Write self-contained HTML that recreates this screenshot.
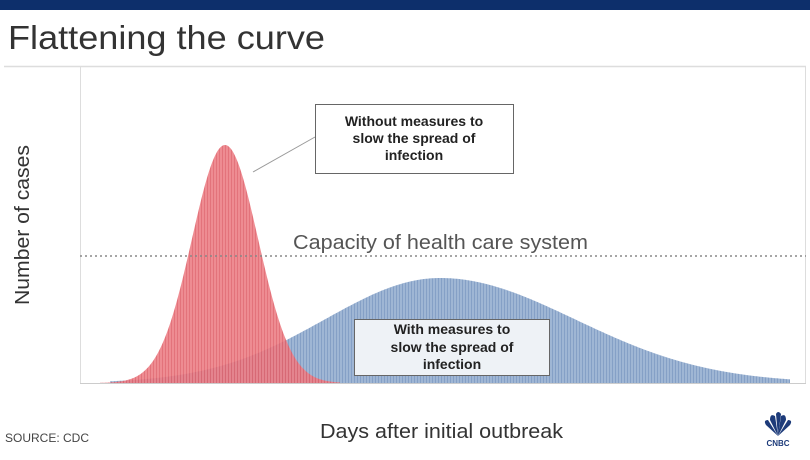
<!DOCTYPE html>
<html><head><meta charset="utf-8"><style>
body{margin:0;background:#fff;width:810px;height:455px;overflow:hidden;font-family:"Liberation Sans",sans-serif}
</style></head><body>
<svg width="810" height="455" xmlns="http://www.w3.org/2000/svg" font-family="Liberation Sans, sans-serif">
<defs>
<pattern id="pb" width="3" height="10" patternUnits="userSpaceOnUse"><rect width="3" height="10" fill="#9fb6d4"/><rect width="1" height="10" fill="#85a0c6"/></pattern>
<pattern id="pr" width="3" height="10" patternUnits="userSpaceOnUse"><rect width="3" height="10" fill="#ec7f86"/><rect width="1" height="10" fill="#e0636c"/></pattern>
</defs>
<rect x="0" y="0" width="810" height="10" fill="#0d2f6b"/>
<text x="8" y="49" font-size="33" fill="#333" textLength="317" lengthAdjust="spacingAndGlyphs">Flattening the curve</text>
<line x1="4" y1="66.5" x2="806" y2="66.5" stroke="#ddd" stroke-width="1.5"/>
<line x1="80.5" y1="67" x2="80.5" y2="383" stroke="#ddd"/>
<line x1="805.5" y1="67" x2="805.5" y2="383" stroke="#ddd"/>
<path id="blue" fill="url(#pb)"/>
<path id="red" fill="url(#pr)" opacity="0.9"/>
<line x1="80" y1="383.5" x2="806" y2="383.5" stroke="#ccc"/>
<line x1="80" y1="256" x2="806" y2="256" stroke="#888" stroke-width="1.5" stroke-dasharray="2,3"/>
<text x="293" y="249" font-size="20" fill="#555" textLength="295" lengthAdjust="spacingAndGlyphs">Capacity of health care system</text>
<line x1="253" y1="172" x2="315" y2="137" stroke="#999"/>
<rect x="315.5" y="104.5" width="198" height="69" fill="#fff" stroke="#666"/>
<g font-size="14" font-weight="bold" fill="#222" text-anchor="middle">
<text x="414" y="126">Without measures to</text>
<text x="414" y="143">slow the spread of</text>
<text x="414" y="160">infection</text>
</g>
<rect x="354.5" y="319.5" width="195" height="56" fill="#eef2f6" stroke="#666"/>
<g font-size="14" font-weight="bold" fill="#222" text-anchor="middle">
<text x="452" y="334">With measures to</text>
<text x="452" y="352">slow the spread of</text>
<text x="452" y="369">infection</text>
</g>
<text transform="translate(29,225) rotate(-90)" font-size="20" fill="#333" text-anchor="middle" textLength="160" lengthAdjust="spacingAndGlyphs">Number of cases</text>
<text x="320" y="438" font-size="20" fill="#333" textLength="243" lengthAdjust="spacingAndGlyphs">Days after initial outbreak</text>
<text x="5" y="442" font-size="12" fill="#444">SOURCE: CDC</text>
<g fill="#1d3b7a">
<path d="M778 436 L766 425 Q763 420 768 420 Z"/>
<path d="M778 436 L770 420 Q770 413 775 416 Z"/>
<path d="M778 436 L776 414 Q778 410 781 414 Z"/>
<path d="M778 436 L786 420 Q786 413 781 416 Z"/>
<path d="M778 436 L790 425 Q793 420 788 420 Z"/>
<text x="778" y="446" font-size="8" font-weight="bold" text-anchor="middle">CNBC</text>
</g>
</svg>
<script>
function mk(f,x0,x1){var d="M"+x0+" 383";for(var x=x0;x<=x1;x+=1)d+=" L"+x+" "+(383-f(x)).toFixed(1);return d+" L"+x1+" 383 Z";}
document.getElementById('red').setAttribute('d',mk(function(x){return 238*Math.exp(-Math.pow((x-225)/33,2)/2);},100,340));
document.getElementById('blue').setAttribute('d',mk(function(x){var s=x<440?115:135;return 105*Math.exp(-Math.pow((x-440)/s,2)/2);},110,790));
</script>
</body></html>
